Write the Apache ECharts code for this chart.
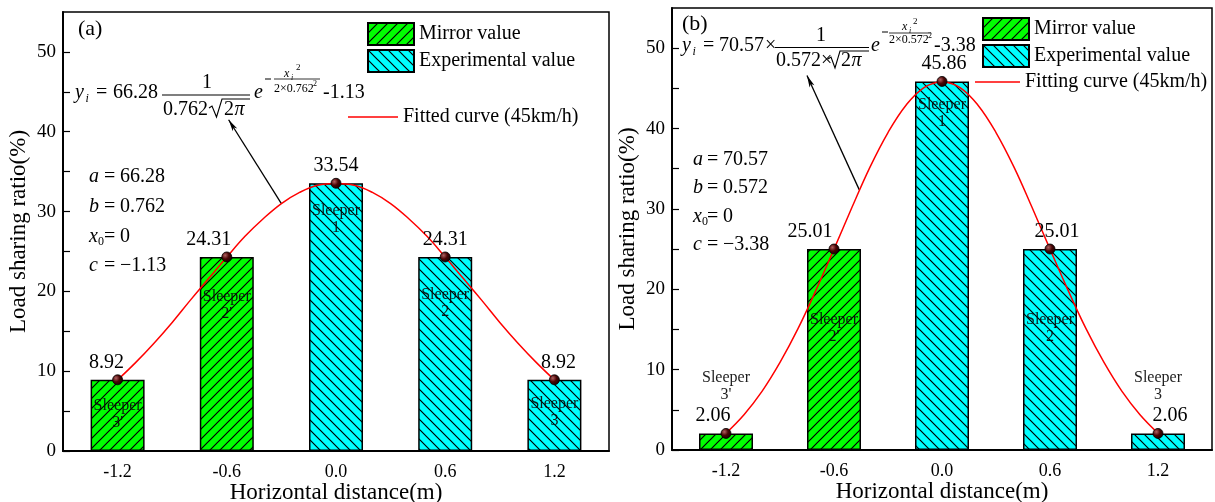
<!DOCTYPE html>
<html>
<head>
<meta charset="utf-8">
<script src="https://cdn.jsdelivr.net/npm/echarts@6/dist/echarts.min.js"></script>
<style>html,body{margin:0;padding:0;background:#fff;overflow:hidden}#c{width:1215px;height:502px}</style>
</head>
<body>
<div id="c"></div>
<script>
// ---------------- DATA ----------------
const xPositions = [-1.2, -0.6, 0.0, 0.6, 1.2];
const xTickLabels = ['-1.2', '-0.6', '0.0', '0.6', '1.2'];
const yTickValues = [0, 10, 20, 30, 40, 50];
const yMinorTicks = [0, 5, 10, 15, 20, 25, 30, 35, 40, 45, 50];
const sleeperNames = ["Sleeper\n3'", "Sleeper\n2'", "Sleeper\n1", "Sleeper\n2", "Sleeper\n3"];

// Panel (a)
const mirrorX_A = [-1.2, -0.6];
const mirrorA = [8.92, 24.31];
const experimentalX_A = [0.0, 0.6, 1.2];
const experimentalA = [33.54, 24.31, 8.92];
// Panel (b)
const mirrorX_B = [-1.2, -0.6];
const mirrorB = [2.06, 25.01];
const experimentalX_B = [0.0, 0.6, 1.2];
const experimentalB = [45.86, 25.01, 2.06];

// fitted curves, values
const curveX = [-1.2,-1.1,-1.0,-0.9,-0.8,-0.7,-0.6,-0.5,-0.4,-0.3,-0.2,-0.1,0.0,0.1,0.2,0.3,0.4,0.5,0.6,0.7,0.8,0.9,1.0,1.1,1.2];
const curveA = [8.9,11.1,13.5,16.1,18.9,21.6,24.3,26.9,29.1,31.0,32.4,33.3,33.5,33.3,32.4,31.0,29.1,26.9,24.3,21.6,18.9,16.1,13.5,11.1,8.9];
const curveB = [2.1,4.4,7.3,10.9,15.1,19.9,25.0,30.2,35.2,39.5,42.9,45.1,45.8,45.1,42.9,39.5,35.2,30.2,25.0,19.9,15.1,10.9,7.3,4.4,2.1];

const paramsA = ['66.28', '0.762', '0', '\u22121.13'];
const paramsB = ['70.57', '0.572', '0', '\u22123.38'];

// ---------------- STYLE ----------------
const F = "'Liberation Serif','Times New Roman',serif";
const sleeperDistA = [[ 'insideTop', 17 ], [ 'insideTop', 31 ], [ 'insideTop', 19 ], [ 'insideTop', 29 ], [ 'insideTop', 15 ]];
const sleeperDistB = [[ 'top', 30 ], [ 'insideTop', 62 ], [ 'insideTop', 15 ], [ 'insideTop', 62 ], [ 'top', 30 ]];
const valueShiftA = [-11, -18, 0, 0, 4];
const valueShiftB = [-13, -24, 2, 7, 12];

function makeHatch(bg, forward) {
  const s = 10, c = document.createElement('canvas');
  c.width = s; c.height = s;
  const g = c.getContext('2d');
  g.fillStyle = bg; g.fillRect(0, 0, s, s);
  g.strokeStyle = '#000'; g.lineWidth = 1.2; g.beginPath();
  if (forward) {
    g.moveTo(0, s); g.lineTo(s, 0);
    g.moveTo(-1, 1); g.lineTo(1, -1);
    g.moveTo(s - 1, s + 1); g.lineTo(s + 1, s - 1);
  } else {
    g.moveTo(0, 0); g.lineTo(s, s);
    g.moveTo(-1, s - 1); g.lineTo(1, s + 1);
    g.moveTo(s - 1, -1); g.lineTo(s + 1, 1);
  }
  g.stroke();
  return c;
}
const greenHatch = { image: makeHatch('#00ff00', true), repeat: 'repeat' };
const cyanHatch = { image: makeHatch('#00ffff', false), repeat: 'repeat' };

const pointColor = { type: 'radial', x: 0.35, y: 0.35, r: 0.75,
  colorStops: [{ offset: 0, color: '#b06060' }, { offset: 0.45, color: '#4a0505' }, { offset: 1, color: '#0a0000' }] };

function barItems(xs, ys, offsetIdx, dist) {
  return xs.map((x, i) => {
    const k = offsetIdx + i;
    return { value: [x, ys[i]], label: { show: true, formatter: sleeperNames[k], position: dist[k][0], distance: dist[k][1] } };
  });
}
function pointItems(xs, ys, shift) {
  return xs.map((x, i) => ({ value: [x, ys[i]], label: { offset: [shift[i], 0] } }));
}

function T(x, y, text, size, italic, align) {
  return { type: 'text', x: x, y: y, silent: true, z: 100,
    style: { text: text, fontSize: size, fontFamily: F, fontStyle: italic ? 'italic' : 'normal', fill: '#000',
      align: align || 'left', verticalAlign: 'middle', textAlign: align || 'left', textVerticalAlign: 'middle' } };
}
function L(x1, y1, x2, y2, w) {
  return { type: 'line', silent: true, z: 100, shape: { x1, y1, x2, y2 }, style: { stroke: '#000', lineWidth: w || 1 } };
}
function P(points, w) {
  return { type: 'polyline', silent: true, z: 100, shape: { points }, style: { stroke: '#000', lineWidth: w || 1, fill: null } };
}

const graphics = [
  T(78, 29, '(a)', 22), T(682, 24, '(b)', 22),
  // formula (a)
  T(75, 93, 'y', 20, true), T(85.5, 99, 'i', 12, true), T(96, 93, '=', 20), T(113, 93, '66.28', 20),
  T(207, 82.5, '1', 20, false, 'center'), L(162, 95, 250, 95, 1.2),
  T(163, 110, '0.762', 20), P([[209, 108], [212, 106], [216.5, 117], [222, 99], [250, 99]], 1.1),
  T(224, 110, '2', 20), T(234.5, 110, '\u03c0', 20, true),
  T(254, 93, 'e', 20, true), L(265, 79, 271, 79, 1), L(274, 79, 320, 79, 0.8),
  T(284, 73.5, 'x', 12, true), T(291, 77.5, 'i', 8, true), T(296, 68, '2', 9),
  T(274, 89, '2\u00d70.762', 12), T(313, 84, '2', 8),
  T(323, 93, '-1.13', 20),
  // formula (b)
  T(682, 46, 'y', 20, true), T(692.5, 52, 'i', 12, true), T(703, 46, '=', 20), T(719, 46, '70.57', 20), T(765, 46, '\u00d7', 20),
  T(821, 36, '1', 20, false, 'center'), L(775, 47.5, 869, 47.5, 1.2),
  T(776, 61, '0.572', 20), T(821, 61, '\u00d7', 20), P([[828, 59], [831, 57], [835, 68], [840, 51], [869, 51]], 1.1),
  T(841, 61, '2', 20), T(851.5, 61, '\u03c0', 20, true),
  T(871, 46, 'e', 20, true), L(882, 32, 888, 32, 1), L(889, 33, 931, 33, 0.8),
  T(902, 27, 'x', 12, true), T(909, 31, 'i', 8, true), T(913, 22, '2', 9),
  T(889, 40, '2\u00d70.572', 12), T(928, 36, '2', 8),
  T(934, 46, '-3.38', 20)
];
// parameter blocks
const pA = { vx: 89, ex: 104, vlx: 120, ys: [177, 207, 237, 266] };
const pB = { vx: 693, ex: 707, vlx: 723, ys: [160, 188, 217, 245] };
[[pA, paramsA], [pB, paramsB]].forEach(([p, vals]) => {
  const vars = ['a', 'b', 'x', 'c'];
  vars.forEach((v, i) => {
    graphics.push(T(p.vx, p.ys[i], v, 20, true));
    if (v === 'x') graphics.push(T(p.vx + 9, p.ys[i] + 5, '0', 12));
    graphics.push(T(p.ex, p.ys[i], '=', 20));
    graphics.push(T(p.vlx, p.ys[i], vals[i], 20));
  });
});

function xAxisCfg(gi) {
  return {
    type: 'value', gridIndex: gi, min: -1.5, max: 1.5,
    name: 'Horizontal distance(m)', nameLocation: 'middle', nameGap: 30, nameMoveOverlap: false,
    nameTextStyle: { fontFamily: F, fontSize: 23, color: '#000' },
    axisLine: { show: true, onZero: false, lineStyle: { color: '#000', width: 2 } },
    axisTick: { show: true, inside: true, length: 6, customValues: xPositions, lineStyle: { color: '#000', width: 1.2 } },
    axisLabel: { customValues: xPositions, margin: 12, fontFamily: F, fontSize: 18, color: '#000',
      formatter: v => xTickLabels[xPositions.findIndex(p => Math.abs(p - v) < 1e-6)] },
    splitLine: { show: false }
  };
}
function yAxisCfg(gi) {
  return {
    type: 'value', gridIndex: gi, min: 0, max: 55,
    name: 'Load sharing ratio(%)', nameLocation: 'middle', nameGap: 33, nameMoveOverlap: false,
    nameTextStyle: { fontFamily: F, fontSize: 23, color: '#000' },
    axisLine: { show: true, onZero: false, lineStyle: { color: '#000', width: 2 } },
    axisTick: { show: true, inside: true, length: 7, customValues: yMinorTicks, lineStyle: { color: '#000', width: 1.2 } },
    axisLabel: { customValues: yTickValues, margin: 7, fontFamily: F, fontSize: 19, color: '#000' },
    splitLine: { show: false }
  };
}

const barBase = {
  type: 'bar', barWidth: 54, barGap: '-100%',
  itemStyle: { borderColor: '#000', borderWidth: 1.5 },
  label: { show: true, fontFamily: F, fontSize: 16, lineHeight: 17, color: 'rgba(10,10,10,0.92)' },
  z: 2
};
function barSeries(name, gi, color, items) {
  return Object.assign({}, barBase, { name, xAxisIndex: gi, yAxisIndex: gi, data: items,
    itemStyle: Object.assign({}, barBase.itemStyle, { color }) });
}
function curveSeries(name, gi, ys) {
  return { name, type: 'line', xAxisIndex: gi, yAxisIndex: gi, smooth: 0.4, symbol: 'none', showSymbol: false,
    data: curveX.map((x, i) => [x, ys[i]]), lineStyle: { color: '#ff0000', width: 1.5 }, itemStyle: { color: '#ff0000' }, z: 5 };
}
function pointSeries(gi, xs, ys, shift, arrow) {
  return { type: 'scatter', xAxisIndex: gi, yAxisIndex: gi, symbolSize: 10, z: 6,
    itemStyle: { color: pointColor, borderColor: '#000', borderWidth: 0.8, opacity: 1 },
    label: { show: true, position: 'top', distance: 2, fontFamily: F, fontSize: 20, color: '#000', opacity: 1,
      formatter: p => p.value[1].toFixed(2) },
    data: pointItems(xs, ys, shift),
    markLine: { silent: true, symbol: ['none', 'arrow'], symbolSize: [4, 12], label: { show: false },
      lineStyle: { color: '#000', width: 1.3, type: 'solid', opacity: 1 },
      data: [[{ coord: arrow[0] }, { coord: arrow[1] }]] }
  };
}

const lineIcon = 'path://M0,0H60V2H0Z';
const option = {
  animation: false,
  textStyle: { fontFamily: F },
  grid: [
    { left: 63, top: 12, width: 546, height: 439, show: true, borderColor: '#000', borderWidth: 1.5, outerBoundsMode: 'none', containLabel: false },
    { left: 672, top: 8, width: 540, height: 442, show: true, borderColor: '#000', borderWidth: 1.5, outerBoundsMode: 'none', containLabel: false }
  ],
  xAxis: [xAxisCfg(0), xAxisCfg(1)],
  yAxis: [yAxisCfg(0), yAxisCfg(1)],
  legend: [
    { data: ['Mirror value', 'Experimental value'], left: 367, top: 22, orient: 'vertical', icon: 'rect',
      itemWidth: 46, itemHeight: 22, itemGap: 3, selectedMode: false, padding: 0,
      textStyle: { fontFamily: F, fontSize: 20, color: '#000' } },
    { data: [{ name: 'Fitted curve (45km/h)', icon: lineIcon }], left: 348, top: 107, itemWidth: 50, itemHeight: 14,
      selectedMode: false, padding: 0, textStyle: { fontFamily: F, fontSize: 20, color: '#000' } },
    { data: ['Mirror value', 'Experimental value'], left: 982, top: 17, orient: 'vertical', icon: 'rect',
      itemWidth: 46, itemHeight: 22, itemGap: 3, selectedMode: false, padding: 0,
      textStyle: { fontFamily: F, fontSize: 20, color: '#000' } },
    { data: [{ name: 'Fitting curve (45km/h)', icon: lineIcon }], left: 975, top: 72, itemWidth: 45, itemHeight: 14,
      selectedMode: false, padding: 0, textStyle: { fontFamily: F, fontSize: 20, color: '#000' } }
  ],
  series: [
    barSeries('Mirror value', 0, greenHatch, barItems(mirrorX_A, mirrorA, 0, sleeperDistA)),
    barSeries('Experimental value', 0, cyanHatch, barItems(experimentalX_A, experimentalA, 2, sleeperDistA)),
    curveSeries('Fitted curve (45km/h)', 0, curveA),
    pointSeries(0, mirrorX_A.concat(experimentalX_A), mirrorA.concat(experimentalA), valueShiftA, [[-0.30, 31.0], [-0.59, 41.5]]),
    barSeries('Mirror value', 1, greenHatch, barItems(mirrorX_B, mirrorB, 0, sleeperDistB)),
    barSeries('Experimental value', 1, cyanHatch, barItems(experimentalX_B, experimentalB, 2, sleeperDistB)),
    curveSeries('Fitting curve (45km/h)', 1, curveB),
    pointSeries(1, mirrorX_B.concat(experimentalX_B), mirrorB.concat(experimentalB), valueShiftB, [[-0.46, 32.4], [-0.75, 46.6]])
  ],
  graphic: graphics
};
const chart = echarts.init(document.getElementById('c'), null, { renderer: 'canvas' });
chart.setOption(option);
</script>
</body>
</html>
